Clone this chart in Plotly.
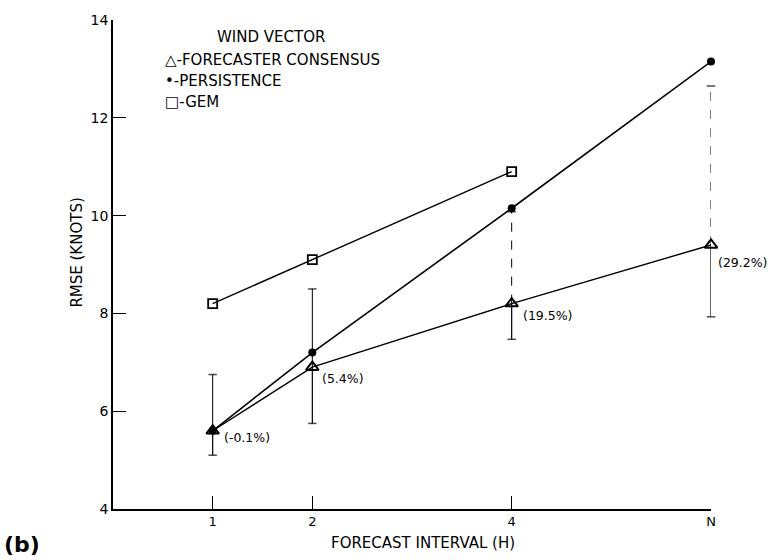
import plotly.graph_objects as go

# Forecast intervals (N plotted at position 6)
x_pos = [1, 2, 4, 6]
x_labels = ["1", "2", "4", "N"]

# RMSE of the wind vector (knots)
consensus = [5.6, 6.9, 8.2, 9.4]
persistence = [5.6, 7.2, 10.15, 13.15]
gem_x = [1, 2, 4]
gem = [8.2, 9.1, 10.9]

# Spread of individual forecasters around the consensus
err_hi = [6.75, 8.5, 10.08, 12.65]
err_lo = [5.1, 5.75, 7.47, 7.93]

# Improvement of consensus over persistence
pct_labels = ["(-0.1%)", "(5.4%)", "(19.5%)", "(29.2%)"]

FONT = "DejaVu Sans"
INK = "black"

W, H = 773, 560
ML, MR, MT, MB = 113, 62, 15, 51
PW, PH = W - ML - MR, H - MT - MB


def px(xp):
    return (xp - ML) / PW


def py(yp):
    return (H - MB - yp) / PH


fig = go.Figure()

# Error bars: lower part solid, upper part solid or broken
upper_dash = ["solid", "solid", "dash", "dash"]
for xi, c, hi, lo, d in zip(x_pos, consensus, err_hi, err_lo, upper_dash):
    fig.add_trace(go.Scatter(
        x=[xi, xi], y=[lo, c], mode="lines+markers", cliponaxis=False,
        line=dict(color=INK, width=1.2),
        marker=dict(symbol="line-ew", size=[6, 0],
                    line=dict(color=INK, width=1.5)),
        showlegend=False, hoverinfo="skip"))
    fig.add_trace(go.Scatter(
        x=[xi, xi], y=[c, hi], mode="lines+markers", cliponaxis=False,
        line=dict(color=INK, width=1.0, dash=d),
        marker=dict(symbol="line-ew", size=[0, 6],
                    line=dict(color=INK, width=1.5)),
        showlegend=False, hoverinfo="skip"))

# GEM
fig.add_trace(go.Scatter(
    x=gem_x, y=gem, mode="lines+markers", cliponaxis=False,
    line=dict(color=INK, width=1.4),
    marker=dict(symbol="square-open", size=9, color=INK,
                line=dict(width=1.8)),
    showlegend=False))

# Forecaster consensus
fig.add_trace(go.Scatter(
    x=x_pos, y=consensus, mode="lines+markers", cliponaxis=False,
    line=dict(color=INK, width=1.4),
    marker=dict(symbol="triangle-up-open", size=11, color=INK,
                line=dict(width=2)),
    showlegend=False))

# Persistence
fig.add_trace(go.Scatter(
    x=x_pos, y=persistence, mode="lines+markers", cliponaxis=False,
    line=dict(color=INK, width=1.6),
    marker=dict(symbol="circle", size=8, color=INK),
    showlegend=False))

annotations = []

# Percentage labels next to the consensus points
offsets = [(9, -7), (8, -11), (9, -12), (5, -18)]
for xi, c, t, (dx, dy) in zip(x_pos, consensus, pct_labels, offsets):
    annotations.append(dict(
        x=xi, y=c, xref="x", yref="y", text=t, showarrow=False,
        xanchor="left", yanchor="middle", xshift=dx, yshift=dy,
        font=dict(family=FONT, size=12.5, color=INK)))

# Key block
key_font = dict(family=FONT, size=15, color=INK)
annotations.append(dict(x=px(215), y=py(32), xref="paper", yref="paper",
                        text="WIND VECTOR", showarrow=False,
                        xanchor="left", yanchor="middle", font=key_font))
for text, yp in [("\u25b3-FORECASTER CONSENSUS", 55),
                 ("\u2022-PERSISTENCE", 77),
                 ("\u25a1-GEM", 98)]:
    annotations.append(dict(x=px(163), y=py(yp), xref="paper", yref="paper",
                            text=text, showarrow=False,
                            xanchor="left", yanchor="middle", font=key_font))

# Axis titles
annotations.append(dict(x=px(77), y=py(250), xref="paper", yref="paper",
                        text="RMSE (KNOTS)", textangle=-90, showarrow=False,
                        xanchor="center", yanchor="middle",
                        font=dict(family=FONT, size=15, color=INK)))
annotations.append(dict(x=px(423), y=py(543), xref="paper", yref="paper",
                        text="FORECAST INTERVAL (H)", showarrow=False,
                        xanchor="center", yanchor="middle",
                        font=dict(family=FONT, size=15, color=INK)))

# Panel tag
annotations.append(dict(x=px(22), y=py(545), xref="paper", yref="paper",
                        text="<b>(b)</b>", showarrow=False,
                        xanchor="center", yanchor="middle",
                        font=dict(family=FONT, size=22, color=INK)))

fig.update_layout(
    width=W, height=H, autosize=False,
    margin=dict(l=ML, r=MR, t=MT, b=MB),
    paper_bgcolor="white", plot_bgcolor="white",
    showlegend=False,
    annotations=annotations,
    xaxis=dict(range=[0, 6], tickvals=x_pos, ticktext=x_labels,
               ticks="inside", ticklen=13, tickwidth=1.3, tickcolor=INK,
               showline=True, linecolor=INK, linewidth=1.5,
               showgrid=False, zeroline=False,
               tickfont=dict(family=FONT, size=13, color=INK)),
    yaxis=dict(range=[4, 14], tickvals=[4, 6, 8, 10, 12, 14],
               ticks="inside", ticklen=13, tickwidth=1.3, tickcolor=INK,
               showline=True, linecolor=INK, linewidth=1.5,
               showgrid=False, zeroline=False,
               tickfont=dict(family=FONT, size=14, color=INK)),
)

fig.write_html("out.html")
